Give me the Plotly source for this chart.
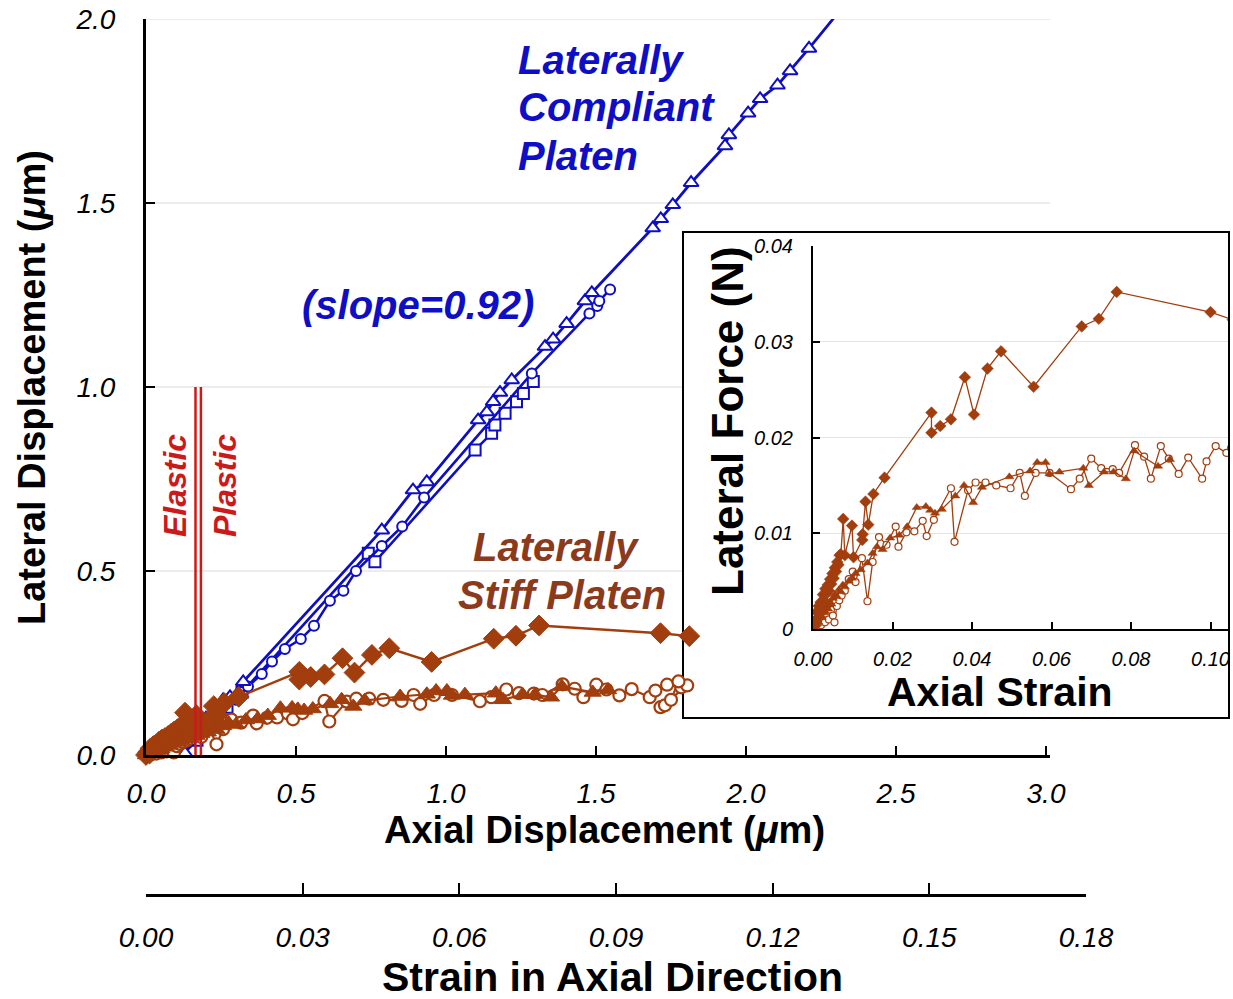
import plotly.graph_objects as go

W, H = 1233, 999
FONT = "Liberation Sans, Arial, Helvetica, sans-serif"
BLUE = "#0e0ec6"
BROWN = "#a23d0d"
BROWN_TXT = "#8c3a1c"
RED = "#cc1a1a"

# ---------------- main plot: laterally compliant platen (blue) ----------------
bt_x = [0.0, 0.06, 0.13, 0.20, 0.257, 0.28, 0.324, 0.786, 0.89, 0.936,
        1.107, 1.136, 1.157, 1.18, 1.219, 1.33, 1.357, 1.402, 1.463, 1.486,
        1.689, 1.716, 1.756, 1.817, 1.93, 1.943, 2.007, 2.047, 2.105, 2.147,
        2.21, 2.32]
bt_y = [0.0, 0.0, 0.005, 0.10, 0.150, 0.158, 0.199, 0.611, 0.72, 0.742,
        0.91, 0.932, 0.96, 0.985, 1.019, 1.11, 1.13, 1.172, 1.234, 1.256,
        1.432, 1.457, 1.495, 1.555, 1.655, 1.685, 1.744, 1.783, 1.82, 1.859,
        1.92, 2.03]

bc_x = [0.0, 0.05, 0.10, 0.15, 0.20, 0.25, 0.30, 0.34, 0.386, 0.42,
        0.463, 0.516, 0.56, 0.613, 0.658, 0.70, 0.786, 0.854, 0.927, 1.286,
        1.478, 1.504, 1.511, 1.547]
bc_y = [0.0, 0.01, 0.02, 0.04, 0.08, 0.12, 0.15, 0.186, 0.22, 0.254,
        0.288, 0.315, 0.351, 0.419, 0.446, 0.50, 0.568, 0.621, 0.70, 1.037,
        1.20, 1.22, 1.234, 1.265]

bs_x = [0.0, 0.06, 0.12, 0.17, 0.22, 0.27, 0.32, 0.741, 0.763, 1.097,
        1.152, 1.163, 1.197, 1.235, 1.258, 1.291]
bs_y = [0.0, 0.0, 0.0, 0.04, 0.09, 0.13, 0.17, 0.548, 0.525, 0.829,
        0.874, 0.897, 0.929, 0.96, 0.982, 1.015]

# ---------------- main plot: laterally stiff platen (brown) ----------------
md_x = [0, .007, .012, .015, .021, .024, .029, .033, .038, .043,
        .048, .053, .058, .063, .069, .074, .079, .084, .089, .094,
        .099, .105, .110, .115, .120, .130, .137, .168, .175, .213,
        .214, .226, .238, .261, .309, .511, .511, .549, .595, .655,
        .695, .753, .811, .952, 1.159, 1.233, 1.310, 1.715, 1.811]
md_y = [0.0, 0.008, 0.004, 0.018, 0.012, 0.024, 0.016, 0.028, 0.022, 0.036,
        0.030, 0.042, 0.037, 0.046, 0.040, 0.052, 0.047, 0.058, 0.053, 0.064,
        0.060, 0.070, 0.067, 0.077, 0.078, 0.115, 0.077, 0.108, 0.075, 0.093,
        0.099, 0.133, 0.109, 0.141, 0.158, 0.226, 0.205, 0.212, 0.219, 0.263,
        0.224, 0.272, 0.290, 0.253, 0.316, 0.324, 0.352, 0.331, 0.323]

mt_x = [0, .009, .017, .024, .031, .038, .045, .051, .058, .065,
        .072, .079, .086, .094, .103, .111, .120, .129, .137, .154,
        .168, .184, .206, .235, .257, .276, .300, .333, .372, .406,
        .448, .487, .506, .527, .556, .614, .652, .691, .729, .847,
        .936, .967, 1.003, 1.020, 1.063, 1.166, 1.190, 1.255, 1.297, 1.350,
        1.386, 1.489, 1.540]
mt_y = [0.0, 0.004, 0.009, 0.007, 0.014, 0.012, 0.019, 0.017, 0.024, 0.021,
        0.028, 0.026, 0.032, 0.036, 0.034, 0.041, 0.039, 0.046, 0.044, 0.050,
        0.053, 0.058, 0.062, 0.069, 0.079, 0.086, 0.083, 0.095, 0.098, 0.107,
        0.127, 0.128, 0.124, 0.121, 0.125, 0.139, 0.150, 0.132, 0.148, 0.159,
        0.165, 0.174, 0.174, 0.162, 0.164, 0.168, 0.150, 0.164, 0.164, 0.157,
        0.186, 0.170, 0.177]

mc_x = [0, .010, .017, .026, .034, .043, .051, .060, .069, .077,
        .086, .093, .103, .113, .123, .137, .154, .172, .184, .211,
        .235, .257, .285, .317, .357, .369, .403, .437, .473, .490,
        .521, .595, .611, .669, .701, .744, .791, .852, .892, .914,
        .960, 1.020, 1.113, 1.151, 1.201, 1.243, 1.293, 1.321, 1.389, 1.429,
        1.458, 1.501, 1.535, 1.578, 1.619, 1.679, 1.698, 1.737, 1.784, 1.804,
        1.715, 1.730, 1.750, 1.775]
mc_y = [0.0, 0.003, 0.002, 0.008, 0.004, 0.012, 0.007, 0.016, 0.010, 0.020,
        0.014, 0.007, 0.024, 0.030, 0.035, 0.040, 0.052, 0.060, 0.049, 0.074,
        0.029, 0.070, 0.096, 0.088, 0.107, 0.086, 0.101, 0.102, 0.113, 0.097,
        0.114, 0.147, 0.091, 0.145, 0.153, 0.153, 0.150, 0.147, 0.163, 0.139,
        0.163, 0.163, 0.146, 0.157, 0.178, 0.168, 0.167, 0.163, 0.192, 0.180,
        0.157, 0.191, 0.178, 0.162, 0.179, 0.157, 0.175, 0.191, 0.184, 0.189,
        0.130, 0.135, 0.150, 0.200]

# ---------------- inset: lateral force vs axial strain ----------------
d_s = [0.0, 0.0004, 0.0007, 0.0009, 0.0012, 0.0014, 0.0017, 0.0019, 0.0022, 0.0025,
       0.0028, 0.0031, 0.0034, 0.0037, 0.004, 0.0043, 0.0046, 0.0049, 0.0052, 0.0055,
       0.0058, 0.0061, 0.0064, 0.0067, 0.0070, 0.0076, 0.0080, 0.0098, 0.0102, 0.0124,
       0.0125, 0.0132, 0.0139, 0.0152, 0.0180, 0.0298, 0.0298, 0.0320, 0.0347, 0.0382,
       0.0405, 0.0439, 0.0473, 0.0555, 0.0676, 0.0719, 0.0764, 0.1000, 0.1056]
d_f = [0.0, 0.0008, 0.0004, 0.0018, 0.0012, 0.0024, 0.0016, 0.0028, 0.0022, 0.0036,
       0.0030, 0.0042, 0.0037, 0.0046, 0.0040, 0.0052, 0.0047, 0.0058, 0.0053, 0.0064,
       0.0060, 0.0070, 0.0067, 0.0077, 0.0078, 0.0115, 0.0077, 0.0108, 0.0075, 0.0093,
       0.0099, 0.0133, 0.0109, 0.0141, 0.0158, 0.0226, 0.0205, 0.0212, 0.0219, 0.0263,
       0.0224, 0.0272, 0.0290, 0.0253, 0.0316, 0.0324, 0.0352, 0.0331, 0.0323]

t_s = [0.0, 0.0005, 0.001, 0.0014, 0.0018, 0.0022, 0.0026, 0.003, 0.0034, 0.0038,
       0.0042, 0.0046, 0.005, 0.0055, 0.006, 0.0065, 0.007, 0.0075, 0.008, 0.0090,
       0.0098, 0.0107, 0.0120, 0.0137, 0.015, 0.0161, 0.0175, 0.0194, 0.0217, 0.0237,
       0.0261, 0.0284, 0.0295, 0.0307, 0.0324, 0.0358, 0.038, 0.0403, 0.0425, 0.0494,
       0.0546, 0.0564, 0.0585, 0.0595, 0.062, 0.068, 0.0694, 0.0732, 0.0756, 0.0787,
       0.0808, 0.0868, 0.0898]
t_f = [0.0, 0.0004, 0.0009, 0.0007, 0.0014, 0.0012, 0.0019, 0.0017, 0.0024, 0.0021,
       0.0028, 0.0026, 0.0032, 0.0036, 0.0034, 0.0041, 0.0039, 0.0046, 0.0044, 0.0050,
       0.0053, 0.0058, 0.0062, 0.0069, 0.0079, 0.0086, 0.0083, 0.0095, 0.0098, 0.0107,
       0.0127, 0.0128, 0.0124, 0.0121, 0.0125, 0.0139, 0.0150, 0.0132, 0.0148, 0.0159,
       0.0165, 0.0174, 0.0174, 0.0162, 0.0164, 0.0168, 0.0150, 0.0164, 0.0164, 0.0157,
       0.0186, 0.0170, 0.0177]

c_s = [0.0, 0.0006, 0.001, 0.0015, 0.002, 0.0025, 0.003, 0.0035, 0.004, 0.0045,
       0.005, 0.0054, 0.006, 0.0066, 0.0072, 0.008, 0.009, 0.0100, 0.0107, 0.0123,
       0.0137, 0.0150, 0.0166, 0.0185, 0.0208, 0.0215, 0.0235, 0.0255, 0.0276, 0.0286,
       0.0304, 0.0347, 0.0356, 0.0390, 0.0409, 0.0434, 0.0461, 0.0497, 0.0520, 0.0533,
       0.0560, 0.0595, 0.0649, 0.0671, 0.0700, 0.0725, 0.0754, 0.0770, 0.0810, 0.0833,
       0.0850, 0.0875, 0.0895, 0.0920, 0.0944, 0.0979, 0.0990, 0.1013, 0.1040, 0.1052]
c_f = [0.0, 0.0003, 0.0002, 0.0008, 0.0004, 0.0012, 0.0007, 0.0016, 0.0010, 0.0020,
       0.0014, 0.0007, 0.0024, 0.0030, 0.0035, 0.0040, 0.0052, 0.0060, 0.0049, 0.0074,
       0.0029, 0.0070, 0.0096, 0.0088, 0.0107, 0.0086, 0.0101, 0.0102, 0.0113, 0.0097,
       0.0114, 0.0147, 0.0091, 0.0145, 0.0153, 0.0153, 0.0150, 0.0147, 0.0163, 0.0139,
       0.0163, 0.0163, 0.0146, 0.0157, 0.0178, 0.0168, 0.0167, 0.0163, 0.0192, 0.0180,
       0.0157, 0.0191, 0.0178, 0.0162, 0.0179, 0.0157, 0.0175, 0.0191, 0.0184, 0.0189]

# axis ticks / boundaries
main_x_ticks = [0.0, 0.5, 1.0, 1.5, 2.0, 2.5, 3.0]
main_y_ticks = [0.0, 0.5, 1.0, 1.5, 2.0]
strain_ticks = [0.00, 0.03, 0.06, 0.09, 0.12, 0.15, 0.18]
inset_x_ticks = [0.00, 0.02, 0.04, 0.06, 0.08, 0.10]
inset_y_ticks = [0, 0.01, 0.02, 0.03, 0.04]
boundary_x = [0.165, 0.183]   # elastic / plastic limit lines
boundary_top = 1.0


def px(x):
    return x / W


def py(y):
    return 1 - y / H


fig = go.Figure()


def add(x, y, symbol, color, fill, size, lw, mlw, xa="x", ya="y", clip=True):
    fig.add_trace(go.Scatter(
        x=x, y=y, mode="lines+markers", xaxis=xa, yaxis=ya,
        line=dict(color=color, width=lw),
        marker=dict(symbol=symbol, size=size, color=fill,
                    line=dict(color=color, width=mlw)),
        cliponaxis=clip, showlegend=False, hoverinfo="skip"))


# main blue
add(bs_x, bs_y, "square", BLUE, "white", 11, 2.6, 2.0)
add(bc_x, bc_y, "circle", BLUE, "white", 10, 2.6, 2.0)
add(bt_x, bt_y, "triangle-up", BLUE, "white", 13, 2.8, 2.0)
# main brown
add(mc_x, mc_y, "circle", BROWN, "white", 12, 2.2, 2.2, clip=False)
add(mt_x, mt_y, "triangle-up", BROWN, BROWN, 15, 2.2, 1.0, clip=False)
add(md_x, md_y, "diamond", BROWN, BROWN, 16, 2.4, 1.0, clip=False)
# inset
add(c_s, c_f, "circle", BROWN, "white", 7, 1.3, 1.2, "x2", "y2")
add(t_s, t_f, "triangle-up", BROWN, BROWN, 8, 1.3, 0.5, "x2", "y2")
add(d_s, d_f, "diamond", BROWN, BROWN, 9, 1.3, 0.5, "x2", "y2")
# dummy trace for the strain axis
fig.add_trace(go.Scatter(x=[None], y=[None], xaxis="x3", yaxis="y3",
                         showlegend=False, hoverinfo="skip"))

tick_main = dict(family=FONT, size=28, color="black", style="italic")
tick_inset = dict(family=FONT, size=20, color="black", style="italic")

# geometry (pixels)
MX0, MX1, MY0, MY1 = 146, 1050, 755, 19          # main plot area
IX0, IX1, IY0, IY1 = 813, 1228, 629, 246          # inset plot area
main_xmax = 3.0 * (MX1 - MX0) / 900.0
inset_xmax = 0.10 * (IX1 - IX0) / 397.5

common = dict(automargin=False, zeroline=False, showgrid=False,
              showline=True, linecolor="black", tickcolor="black", ticks="inside")

fig.update_layout(
    template="none",
    width=W, height=H, autosize=False,
    margin=dict(l=0, r=0, t=0, b=0, pad=0, autoexpand=False),
    paper_bgcolor="white", plot_bgcolor="rgba(0,0,0,0)",
    font=dict(family=FONT, color="black"),
    xaxis=dict(domain=[px(MX0), px(MX1)], range=[0, main_xmax], anchor="y",
               tickvals=main_x_ticks, ticktext=[f"{v:.1f}" for v in main_x_ticks],
               ticklen=9, tickwidth=2, linewidth=3,
               tickfont=tick_main, ticklabelstandoff=11, **common),
    yaxis=dict(domain=[py(MY0), py(MY1)], range=[0, 2.0], anchor="x",
               tickvals=main_y_ticks, ticktext=[f"{v:.1f}" for v in main_y_ticks],
               ticklen=9, tickwidth=2, linewidth=3,
               tickfont=tick_main, ticklabelstandoff=22, **common),
    xaxis2=dict(domain=[px(IX0), px(IX1)], range=[0, inset_xmax], anchor="y2",
                tickvals=inset_x_ticks, ticktext=[f"{v:.2f}" for v in inset_x_ticks],
                ticklen=7, tickwidth=1.5, linewidth=2,
                tickfont=tick_inset, ticklabelstandoff=11, **common),
    yaxis2=dict(domain=[py(IY0), py(IY1)], range=[0, 0.04], anchor="x2",
                tickvals=inset_y_ticks, ticktext=["0", "0.01", "0.02", "0.03", "0.04"],
                ticklen=7, tickwidth=1.5, linewidth=2,
                tickfont=tick_inset, ticklabelstandoff=14,
                **{**common, "showgrid": True}, gridcolor="#e4e4e4", gridwidth=1),
    xaxis3=dict(domain=[px(146), px(1086)], range=[0, 0.18], anchor="free",
                position=py(895),
                tickvals=strain_ticks, ticktext=[f"{v:.2f}" for v in strain_ticks],
                ticklen=11, tickwidth=2, linewidth=3,
                tickfont=tick_main, ticklabelstandoff=16, **common),
    yaxis3=dict(domain=[py(898), py(890)], visible=False, anchor="x3",
                automargin=False),
)

shapes = []
# main horizontal grid lines (drawn below the inset box)
for v in main_y_ticks[1:]:
    shapes.append(dict(type="line", xref="paper", yref="y", layer="below",
                       x0=px(MX0), x1=px(MX1), y0=v, y1=v,
                       line=dict(color="#e6e6e6", width=1.5)))
# inset frame
shapes.append(dict(type="rect", xref="paper", yref="paper", layer="below",
                   x0=px(683), x1=px(1229), y0=py(718), y1=py(232),
                   fillcolor="white", line=dict(color="black", width=2)))
# elastic / plastic boundary
for bx in boundary_x:
    shapes.append(dict(type="line", xref="x", yref="y", layer="above",
                       x0=bx, x1=bx, y0=0, y1=boundary_top,
                       line=dict(color=RED, width=2.5)))
fig.update_layout(shapes=shapes)

ann = []


def text(s, x, y, size, color="black", xanchor="center", angle=0, italic=False):
    ann.append(dict(text=s, x=px(x), y=py(y), xref="paper", yref="paper",
                    xanchor=xanchor, yanchor="middle", showarrow=False,
                    textangle=angle,
                    font=dict(family=FONT, size=size, color=color, weight="bold",
                              style="italic" if italic else "normal")))


text("Axial Displacement (<i>μ</i>m)", 604, 830, 38)
text("Strain in Axial Direction", 612, 977, 41)
text("Lateral Displacement (<i>μ</i>m)", 32, 388, 38, angle=-90)
text("Axial Strain", 1000, 692, 41)
text("Lateral Force (N)", 728, 421, 44, angle=-90)

text("Laterally", 516, 60, 40, BLUE, "left", italic=True)
text("Compliant", 516, 107, 40, BLUE, "left", italic=True)
text("Platen", 516, 156, 40, BLUE, "left", italic=True)
text("(slope=0.92)", 300, 305, 40, BLUE, "left", italic=True)
text("Laterally", 556, 547, 40, BROWN_TXT, italic=True)
text("Stiff Platen", 562, 595, 40, BROWN_TXT, italic=True)
text("Elastic", 175, 486, 32, RED, angle=-90, italic=True)
text("Plastic", 225, 486, 32, RED, angle=-90, italic=True)

fig.update_layout(annotations=ann)

fig.write_html("out.html", config={"displayModeBar": False},
               post_script="document.body.style.margin='0';"
                           "document.body.style.overflow='hidden';")
